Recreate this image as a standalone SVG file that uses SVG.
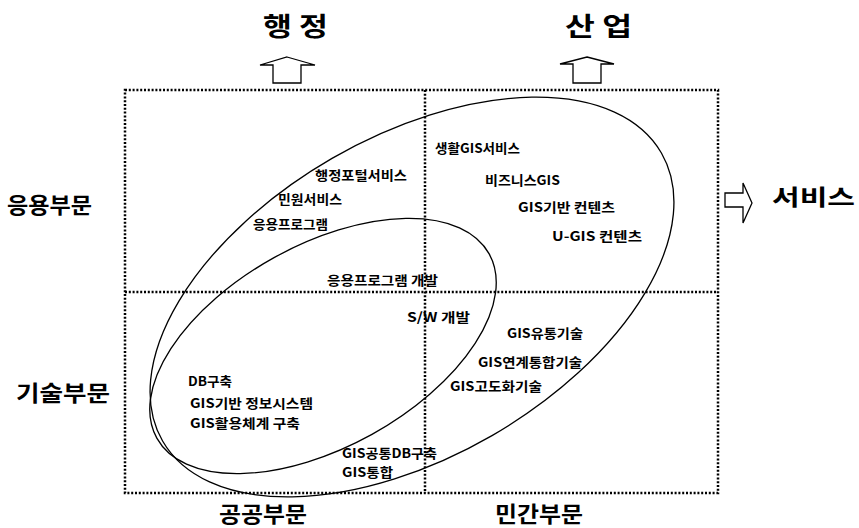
<svg xmlns="http://www.w3.org/2000/svg" width="859" height="528" viewBox="0 0 859 528">
<style>
.grid{fill:none;stroke:#000;stroke-width:2.5;stroke-dasharray:2 1.8}
.ell{fill:none;stroke:#000;stroke-width:1.3}
.arr{fill:#fff;stroke:#000;stroke-width:1.3;stroke-linejoin:miter}
.big{font-family:"Noto Sans CJK KR","Noto Sans",sans-serif;font-weight:bold;fill:#000}
.t{font-family:"Noto Sans CJK KR","Noto Sans",sans-serif;font-weight:bold;font-size:13px;fill:#000}
</style>
<rect width="859" height="528" fill="#fff"/>
<g id="grid">
<rect class="grid" x="125" y="90" width="593" height="403"/>
<line class="grid" x1="425" y1="90" x2="425" y2="493"/>
<line class="grid" x1="125" y1="292" x2="718" y2="292"/>
</g>
<g id="connectors">
<ellipse class="ell" cx="412" cy="297" rx="288" ry="160" transform="rotate(-30 412 297)"/>
<ellipse class="ell" cx="323" cy="346" rx="190" ry="101" transform="rotate(-29 323 346)"/>
<polygon class="arr" points="287,57 315,65 301,65 301,83 273,83 273,65 260,65"/>
<polygon class="arr" points="587,57 614,64 601,64 601,83 573,83 573,64 560,64"/>
<polygon class="arr" points="752,203 743,223 743,207 725,207 725,193 743,193 743,183"/>
</g>
<g id="labels">
<text class="big" font-size="26" x="263" y="36" textLength="65" lengthAdjust="spacingAndGlyphs">행 정</text>
<text class="big" font-size="26" x="565" y="36" textLength="67" lengthAdjust="spacingAndGlyphs">산 업</text>
<text class="big" font-size="22" x="772" y="205" textLength="83" lengthAdjust="spacingAndGlyphs">서비스</text>
<text class="big" font-size="22" x="7" y="213" textLength="85" lengthAdjust="spacingAndGlyphs">응용부문</text>
<text class="big" font-size="22" x="16" y="401" textLength="94" lengthAdjust="spacingAndGlyphs">기술부문</text>
<text class="big" font-size="22" x="219" y="522" textLength="88" lengthAdjust="spacingAndGlyphs">공공부문</text>
<text class="big" font-size="22" x="495" y="522" textLength="88" lengthAdjust="spacingAndGlyphs">민간부문</text>
</g>
<g id="n1"><text class="t" x="315" y="180" textLength="92" lengthAdjust="spacingAndGlyphs">행정포털서비스</text></g>
<g id="n2"><text class="t" x="278" y="204" textLength="64" lengthAdjust="spacingAndGlyphs">민원서비스</text></g>
<g id="n3"><text class="t" x="253" y="229" textLength="75" lengthAdjust="spacingAndGlyphs">응용프로그램</text></g>
<g id="n4"><text class="t" x="435" y="153" textLength="85" lengthAdjust="spacingAndGlyphs">생활GIS서비스</text></g>
<g id="n5"><text class="t" x="485" y="185" textLength="75" lengthAdjust="spacingAndGlyphs">비즈니스GIS</text></g>
<g id="n6"><text class="t" x="518" y="212" textLength="97" lengthAdjust="spacingAndGlyphs">GIS기반 컨텐츠</text></g>
<g id="n7"><text class="t" x="552" y="241" textLength="90" lengthAdjust="spacingAndGlyphs">U-GIS 컨텐츠</text></g>
<g id="n8"><text class="t" x="327" y="285" textLength="111" lengthAdjust="spacingAndGlyphs">응용프로그램 개발</text></g>
<g id="n9"><text class="t" x="407" y="322" textLength="63" lengthAdjust="spacingAndGlyphs">S/W 개발</text></g>
<g id="n10"><text class="t" x="507" y="338" textLength="76" lengthAdjust="spacingAndGlyphs">GIS유통기술</text></g>
<g id="n11"><text class="t" x="478" y="367" textLength="104" lengthAdjust="spacingAndGlyphs">GIS연계통합기술</text></g>
<g id="n12"><text class="t" x="450" y="391" textLength="92" lengthAdjust="spacingAndGlyphs">GIS고도화기술</text></g>
<g id="n13"><text class="t" x="188" y="386" textLength="44" lengthAdjust="spacingAndGlyphs">DB구축</text></g>
<g id="n14"><text class="t" x="190" y="408" textLength="123" lengthAdjust="spacingAndGlyphs">GIS기반 정보시스템</text></g>
<g id="n15"><text class="t" x="190" y="428" textLength="110" lengthAdjust="spacingAndGlyphs">GIS활용체계 구축</text></g>
<g id="n16"><text class="t" x="342" y="458" textLength="95" lengthAdjust="spacingAndGlyphs">GIS공통DB구축</text></g>
<g id="n17"><text class="t" x="342" y="477" textLength="51" lengthAdjust="spacingAndGlyphs">GIS통합</text></g>
</svg>
